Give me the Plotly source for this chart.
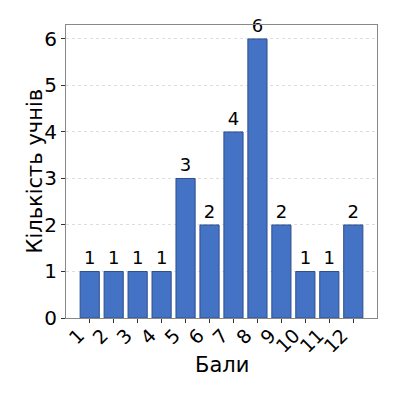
import plotly.graph_objects as go

scores = [1, 2, 3, 4, 5, 6, 7, 8, 9, 10, 11, 12]
counts = [1, 1, 1, 1, 3, 2, 4, 6, 2, 1, 1, 2]
y_ticks = [0, 1, 2, 3, 4, 5, 6]

font = "DejaVu Sans"
fig = go.Figure(go.Bar(
    x=scores, y=counts, width=0.8,
    marker=dict(color="#4472C4", line=dict(color="#2E4F8C", width=1)),
    text=[str(c) for c in counts], textposition="outside",
    textfont=dict(family=font, size=18, color="black"),
    cliponaxis=False,
))
fig.update_layout(
    width=400, height=400,
    margin=dict(l=58, r=31, t=17, b=90, autoexpand=False),
    plot_bgcolor="white", paper_bgcolor="white",
    font=dict(family=font, color="black"),
    showlegend=False,
    annotations=[
        dict(text="Бали", xref="paper", yref="paper", x=0.5, y=0,
             xanchor="center", yanchor="middle", yshift=-47,
             showarrow=False, font=dict(size=21)),
        dict(text="Кількість учнів", xref="paper", yref="paper", x=0, y=0.5,
             xanchor="center", yanchor="middle", xshift=-32, textangle=-90,
             showarrow=False, font=dict(size=21)),
    ],
)
fig.update_xaxes(
    range=[0.01, 12.99], tickmode="array", tickvals=scores,
    ticktext=[str(s) for s in scores], tickangle=-45,
    tickfont=dict(size=19), ticks="outside", ticklen=4, tickcolor="#333",
    ticklabelshift=-11, ticklabelstandoff=-6,
    showline=True, linecolor="#888", linewidth=1, mirror=True,
    showgrid=False, zeroline=False, automargin=False,
)
fig.update_yaxes(
    range=[0, 6.3], tickmode="array", tickvals=y_ticks,
    tickfont=dict(size=20), ticks="outside", ticklen=4, tickcolor="#333",
    showline=True, linecolor="#888", linewidth=1, mirror=True,
    showgrid=True, gridcolor="#dddddd", griddash="dot", gridwidth=1,
    zeroline=False, automargin=False,
)
fig.write_html("out.html")
